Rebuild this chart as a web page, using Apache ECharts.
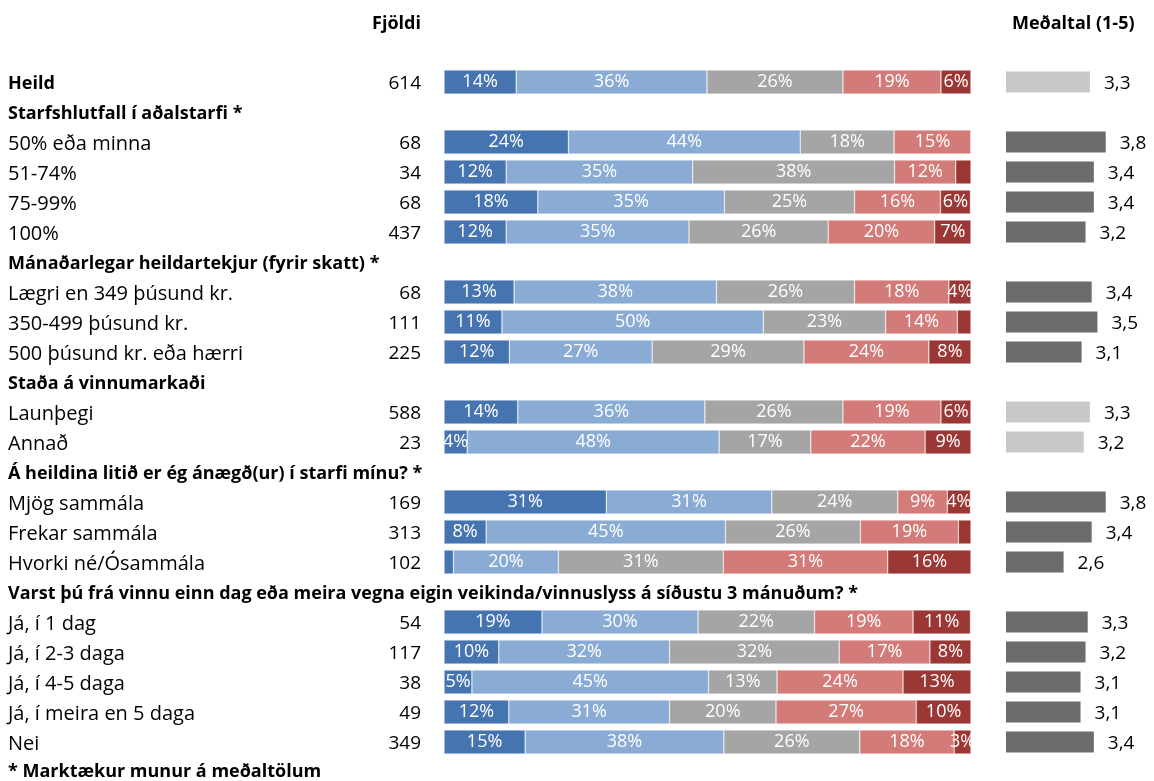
<!DOCTYPE html>
<html>
<head>
<meta charset="utf-8">
<script src="https://cdn.jsdelivr.net/npm/echarts@6/dist/echarts.min.js"></script>
<style>
html,body{margin:0;padding:0;background:#fff;}
#chart{width:1154px;height:781px;}
</style>
</head>
<body>
<div id="chart"></div>
<script>
const categories = [
  'Heild',
  'Starfshlutfall í aðalstarfi *',
  '50% eða minna',
  '51-74%',
  '75-99%',
  '100%',
  'Mánaðarlegar heildartekjur (fyrir skatt) *',
  'Lægri en 349 þúsund kr.',
  '350-499 þúsund kr.',
  '500 þúsund kr. eða hærri',
  'Staða á vinnumarkaði',
  'Launþegi',
  'Annað',
  'Á heildina litið er ég ánægð(ur) í starfi mínu? *',
  'Mjög sammála',
  'Frekar sammála',
  'Hvorki né/Ósammála',
  'Varst þú frá vinnu einn dag eða meira vegna eigin veikinda/vinnuslyss á síðustu 3 mánuðum? *',
  'Já, í 1 dag',
  'Já, í 2-3 daga',
  'Já, í 4-5 daga',
  'Já, í meira en 5 daga',
  'Nei'
];
const boldRows = [0, 1, 6, 10, 13, 17];
const counts = [614, null, 68, 34, 68, 437, null, 68, 111, 225, null, 588, 23, null, 169, 313, 102, null, 54, 117, 38, 49, 349];

const share1 = [13.7, null, 23.6, 11.8, 17.8, 11.8, null, 13.3, 11.0, 12.4, null, 14.0, 4.4, null, 30.8, 8.0, 1.8, null, 18.6, 10.4, 5.3, 12.3, 15.4];
const share2 = [36.2, null, 44.0, 35.4, 35.4, 34.7, null, 38.4, 49.6, 27.1, null, 35.5, 47.8, null, 31.4, 45.4, 19.9, null, 29.6, 32.4, 44.9, 30.5, 37.7];
const share3 = [25.8, null, 17.8, 38.3, 24.7, 26.4, null, 26.2, 23.2, 28.8, null, 26.2, 17.4, null, 23.9, 25.6, 31.3, null, 22.1, 32.2, 13.0, 20.2, 25.8];
const share4 = [18.6, null, 14.6, 11.6, 16.3, 20.2, null, 17.9, 13.6, 23.7, null, 18.6, 21.7, null, 9.4, 18.6, 31.2, null, 18.7, 17.2, 23.9, 26.6, 17.9];
const share5 = [5.7, null, 0, 2.9, 5.7, 6.9, null, 4.2, 2.6, 8.0, null, 5.7, 8.7, null, 4.4, 2.4, 15.8, null, 10.9, 7.8, 12.9, 10.4, 3.2];

const means = [3.33, null, 3.77, 3.44, 3.44, 3.21, null, 3.38, 3.54, 3.10, null, 3.33, 3.16, null, 3.77, 3.38, 2.60, null, 3.27, 3.21, 3.07, 3.07, 3.44];
const lightMeanRows = [0, 11, 12];

const headerCount = 'Fjöldi';
const headerMean = 'Meðaltal (1-5)';
const footnote = '* Marktækur munur á meðaltölum';

const FONT = 'Open Sans';
const FS = 20;
const FSB = 18;
const segColors = ['#4674b0', '#8aabd4', '#a5a5a5', '#d27b78', '#9b3836'];
const shares = [share1, share2, share3, share4, share5];

const chart = echarts.init(document.getElementById('chart'));

const barSeries = shares.map((arr, i) => ({
  type: 'bar',
  stack: 'dist',
  xAxisIndex: 0,
  yAxisIndex: 0,
  barWidth: 24,
  data: arr,
  itemStyle: { color: segColors[i], borderColor: 'rgba(255,255,255,0.55)', borderWidth: 0.6 },
  label: {
    show: true,
    position: 'inside',
    color: '#ffffff',
    fontFamily: FONT,
    fontSize: 18,
    padding: [3, 0, 0, 0],
    formatter: p => (p.value == null || p.value < 3) ? '' : Math.round(p.value) + '%'
  },
  silent: true
}));

const option = {
  animation: false,
  backgroundColor: '#ffffff',
  textStyle: { fontFamily: FONT },
  title: [
    { text: headerCount, right: 733, top: 15, padding: 0, textStyle: { fontFamily: FONT, fontSize: 18, fontWeight: 'bold', color: '#000' } },
    { text: headerMean, left: 1012, top: 15, padding: 0, textStyle: { fontFamily: FONT, fontSize: 18, fontWeight: 'bold', color: '#000' } },
    { text: footnote, left: 8, top: 763, padding: 0, textStyle: { fontFamily: FONT, fontSize: FSB, fontWeight: 'bold', color: '#000' } }
  ],
  grid: [
    { left: 444, right: 183, top: 67, height: 690 },
    { left: 1006, right: 4, top: 67, height: 690 }
  ],
  xAxis: [
    { gridIndex: 0, type: 'value', min: 0, max: 100, show: false },
    { gridIndex: 1, type: 'value', min: 1, max: 5, show: false }
  ],
  yAxis: [
    {
      gridIndex: 0, type: 'category', inverse: true, data: categories,
      axisLine: { show: false }, axisTick: { show: false },
      axisLabel: {
        align: 'left', margin: 436, color: '#000', fontFamily: FONT, fontSize: FS,
        formatter: (v, i) => boldRows.includes(i) ? '{b|' + v + '}' : '{n|' + v + '}',
        rich: {
          b: { fontWeight: 'bold', fontFamily: FONT, fontSize: FSB, color: '#000', padding: [4, 0, 0, 0] },
          n: { fontFamily: FONT, fontSize: FS, color: '#000', padding: [4, 0, 0, 0] }
        }
      }
    },
    {
      gridIndex: 0, type: 'category', inverse: true, position: 'left',
      data: counts.map(c => c == null ? '' : String(c)),
      axisLine: { show: false }, axisTick: { show: false },
      axisLabel: {
        align: 'right', margin: 23, color: '#000', fontFamily: FONT, fontSize: 19,
        formatter: v => '{c|' + v + '}',
        rich: { c: { fontFamily: FONT, fontSize: 19, color: '#000', padding: [4, 0, 0, 0] } }
      }
    },
    {
      gridIndex: 1, type: 'category', inverse: true, data: categories, show: false
    }
  ],
  series: barSeries.concat([
    {
      type: 'bar',
      xAxisIndex: 1,
      yAxisIndex: 2,
      barWidth: 21,
      data: means.map((m, i) => ({
        value: m,
        itemStyle: { color: lightMeanRows.includes(i) ? '#c8c8c8' : '#6c6c6c' }
      })),
      label: {
        show: true, position: 'right', distance: 14, color: '#000', fontFamily: FONT, fontSize: 19,
        formatter: p => p.value == null ? '' : '{m|' + (Math.round(p.value * 10) / 10).toFixed(1).replace('.', ',') + '}',
        rich: { m: { fontFamily: FONT, fontSize: 19, color: '#000', padding: [4, 0, 0, 0] } }
      },
      silent: true
    }
  ])
};
chart.setOption(option);
</script>
</body>
</html>
